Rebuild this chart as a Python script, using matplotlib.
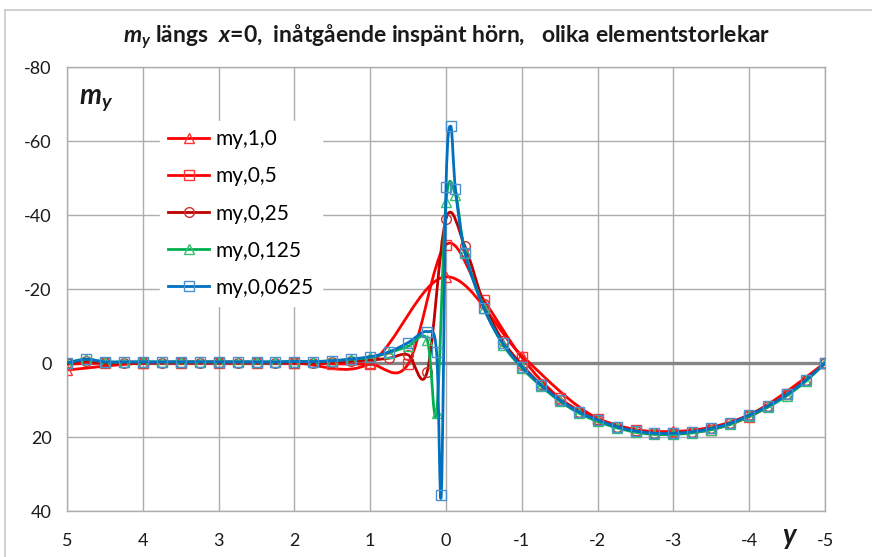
"""
plot.py - m_y along x=0 at a re-entrant clamped corner, for several element sizes.
Smoothed lines are drawn as Bezier paths through the read-off points (Excel style).
"""
import numpy as np
import matplotlib
matplotlib.use("Agg")
import matplotlib.pyplot as plt
from matplotlib.path import Path
from matplotlib.patches import PathPatch
from matplotlib.lines import Line2D

plt.rcParams["font.family"] = ["Lato", "DejaVu Sans"]
plt.rcParams["axes.unicode_minus"] = False
plt.rcParams["mathtext.fontset"] = "custom"
plt.rcParams["mathtext.it"] = "Lato:italic:bold"
plt.rcParams["mathtext.rm"] = "Lato:bold"
plt.rcParams["mathtext.bf"] = "Lato:bold"

# ---- data ---------------------------------------------------------------
x_10 = [5, 4, 3, 2, 1, 0, -1, -2, -3, -4, -5]
my_10 = [1.9, 0.0, -0.3, 0.0, 0.0, -23.3, -2.0, 15.0, 18.5, 14.0, 0.0]

x_05 = [5, 4.5, 4, 3.5, 3, 2.5, 2, 1.5, 1, 0.5, 0,
        -0.5, -1, -1.5, -2, -2.5, -3, -3.5, -4, -4.5, -5]
my_05 = [0.3, 0.0, 0.0, 0.0, 0.0, 0.0, 0.0, 0.2, 0.3, 0.3, -32.0,
         -17.0, -1.5, 9.5, 15.0, 18.0, 19.0, 18.0, 14.5, 8.5, 0.0]

x_025 = [5, 4.75, 4.5, 4.25, 4, 3.75, 3.5, 3.25, 3, 2.75, 2.5, 2.25, 2,
         1.75, 1.5, 1.25, 1, 0.75, 0.5, 0.25, 0,
         -0.25, -0.5, -0.75, -1, -1.25, -1.5, -1.75, -2, -2.25, -2.5,
         -2.75, -3, -3.25, -3.5, -3.75, -4, -4.25, -4.5, -4.75, -5]
my_025 = [0.0, -0.5, 0.0, 0.0, 0.0, 0.0, 0.0, 0.0, 0.0, 0.0, 0.0, 0.0, 0.0,
          0.0, -0.2, -0.5, -0.8, -1.3, -2.2, 2.5, -39.0,
          -31.5, -16.0, -6.0, 0.5, 5.8, 10.0, 13.2, 15.4, 17.2, 18.4,
          19.0, 19.0, 18.6, 17.7, 16.3, 14.1, 11.6, 8.5, 4.6, 0.0]

x_0125 = [5, 4.75, 4.5, 4.25, 4, 3.75, 3.5, 3.25, 3, 2.75, 2.5, 2.25, 2,
          1.75, 1.5, 1.25, 1, 0.75, 0.5, 0.25, 0.125, 0, -0.125,
          -0.25, -0.5, -0.75, -1, -1.25, -1.5, -1.75, -2, -2.25, -2.5,
          -2.75, -3, -3.25, -3.5, -3.75, -4, -4.25, -4.5, -4.75, -5]
my_0125 = [0.0, -1.0, -0.3, -0.3, -0.3, -0.3, -0.3, -0.3, -0.3, -0.3, -0.3, -0.3, -0.4,
           -0.4, -0.6, -1.0, -1.5, -2.8, -4.5, -6.3, 13.5, -43.5, -45.5,
           -30.0, -15.0, -5.0, 1.3, 6.2, 10.3, 13.5, 15.8, 17.5, 18.7,
           19.3, 19.3, 18.9, 18.0, 16.6, 14.4, 11.9, 8.8, 4.9, 0.0]

x_00625 = [5, 4.75, 4.5, 4.25, 4, 3.75, 3.5, 3.25, 3, 2.75, 2.5, 2.25, 2,
           1.75, 1.5, 1.25, 1, 0.75, 0.5, 0.25, 0.125, 0.0625, 0, -0.0625, -0.125,
           -0.25, -0.5, -0.75, -1, -1.25, -1.5, -1.75, -2, -2.25, -2.5,
           -2.75, -3, -3.25, -3.5, -3.75, -4, -4.25, -4.5, -4.75, -5]
my_00625 = [0.0, -1.0, -0.3, -0.3, -0.3, -0.3, -0.3, -0.3, -0.3, -0.3, -0.3, -0.3, -0.4,
            -0.4, -0.6, -1.1, -1.7, -3.0, -5.5, -8.5, -3.1, 35.7, -47.6, -64.0, -47.0,
            -29.8, -14.8, -5.3, 1.0, 5.9, 10.0, 13.2, 15.4, 17.2, 18.4,
            19.0, 19.0, 18.6, 17.7, 16.3, 14.1, 11.6, 8.5, 4.6, 0.0]

labels = ["my,1,0", "my,0,5", "my,0,25", "my,0,125", "my,0,0625"]
series = [(x_10, my_10), (x_05, my_05), (x_025, my_025), (x_0125, my_0125), (x_00625, my_00625)]
line_colors = ["#FF0000", "#FF0000", "#C00000", "#00B050", "#0070C0"]
marker_colors = ["#FF3333", "#FF3333", "#D03030", "#33C070", "#4A90D0"]
markers = ["^", "s", "o", "^", "s"]

xticks = [5, 4, 3, 2, 1, 0, -1, -2, -3, -4, -5]
yticks = [-80, -60, -40, -20, 0, 20, 40]


def smooth_path(xs, ys):
    """Bezier path through the points, control points like Excel's smoothed line."""
    p = np.column_stack([xs, ys]).astype(float)
    n = len(p)
    verts = [p[0]]
    codes = [Path.MOVETO]
    for i in range(n - 1):
        p0 = p[i - 1] if i > 0 else p[i]
        p3 = p[i + 2] if i + 2 < n else p[i + 1]
        c1 = p[i] + (p[i + 1] - p0) / 6.0
        c2 = p[i + 1] - (p3 - p[i]) / 6.0
        verts += [c1, c2, p[i + 1]]
        codes += [Path.CURVE4] * 3
    return Path(verts, codes)


fig = plt.figure(figsize=(8.72, 5.57), dpi=100)
ax = fig.add_axes([67 / 872, 1 - 511 / 557, (825 - 67) / 872, (511 - 67) / 557])

ax.set_xlim(5, -5)
ax.set_ylim(40, -80)
ax.set_xticks(xticks)
ax.set_xticklabels([str(v) for v in xticks])
ax.set_yticks(yticks)
ax.set_yticklabels([str(v) for v in yticks])
ax.tick_params(axis="both", length=0, labelsize=13, colors="#1a1a1a")
ax.tick_params(axis="x", pad=16)
ax.tick_params(axis="y", pad=11)
ax.grid(True, color="#ADADAD", lw=1.0, zorder=0)
for s in ax.spines.values():
    s.set_color("#ADADAD")
    s.set_linewidth(1.0)
ax.axhline(0, color="#868686", lw=2.4, zorder=1)
ax.set_axisbelow(True)

handles = []
for k, ((xs, ys), lab) in enumerate(zip(series, labels)):
    z = 2 + k
    patch = PathPatch(smooth_path(xs, ys), facecolor="none", edgecolor=line_colors[k],
                      lw=2.0, zorder=z, capstyle="round", joinstyle="round")
    ax.add_patch(patch)
    ax.plot(xs, ys, ls="none", marker=markers[k], ms=7, mfc="none",
            mec=marker_colors[k], mew=1.0, zorder=z + 0.5)
    handles.append(Line2D([], [], color=line_colors[k], lw=2.0, marker=markers[k], ms=7,
                          mfc="none", mec=marker_colors[k], mew=1.0))

leg = ax.legend(handles, labels, loc="upper left", bbox_to_anchor=(160 / 872, 1 - 121 / 557),
                bbox_transform=fig.transFigure, borderaxespad=0, frameon=True,
                fontsize=15, handlelength=1.95, handletextpad=0.3, labelspacing=0.82,
                borderpad=0.4, fancybox=False)
leg.get_frame().set_facecolor("white")
leg.get_frame().set_edgecolor("white")
leg.get_frame().set_alpha(1.0)
leg.set_zorder(20)

# titles and labels
fig.text(447 / 872, 1 - 37 / 557,
         r"$m_y$ längs  $x$=0,  inåtgående inspänt hörn,   olika elementstorlekar",
         ha="center", va="center", fontsize=16.5, fontweight="bold", color="#1a1a1a")
fig.text(96 / 872, 1 - 100 / 557, r"$m_y$", ha="center", va="center", fontsize=20,
         color="#1a1a1a")
fig.text(790 / 872, 1 - 538 / 557, r"$y$", ha="center", va="center", fontsize=20,
         color="#1a1a1a")

# chart area border (top and left edges visible)
fig.add_artist(Line2D([5 / 872, 1.0], [1 - 10 / 557, 1 - 10 / 557],
                      transform=fig.transFigure, color="#C8C8C8", lw=1.2))
fig.add_artist(Line2D([5 / 872, 5 / 872], [0.0, 1 - 10 / 557],
                      transform=fig.transFigure, color="#C8C8C8", lw=1.2))

fig.savefig("out.png", dpi=100, facecolor="white")
